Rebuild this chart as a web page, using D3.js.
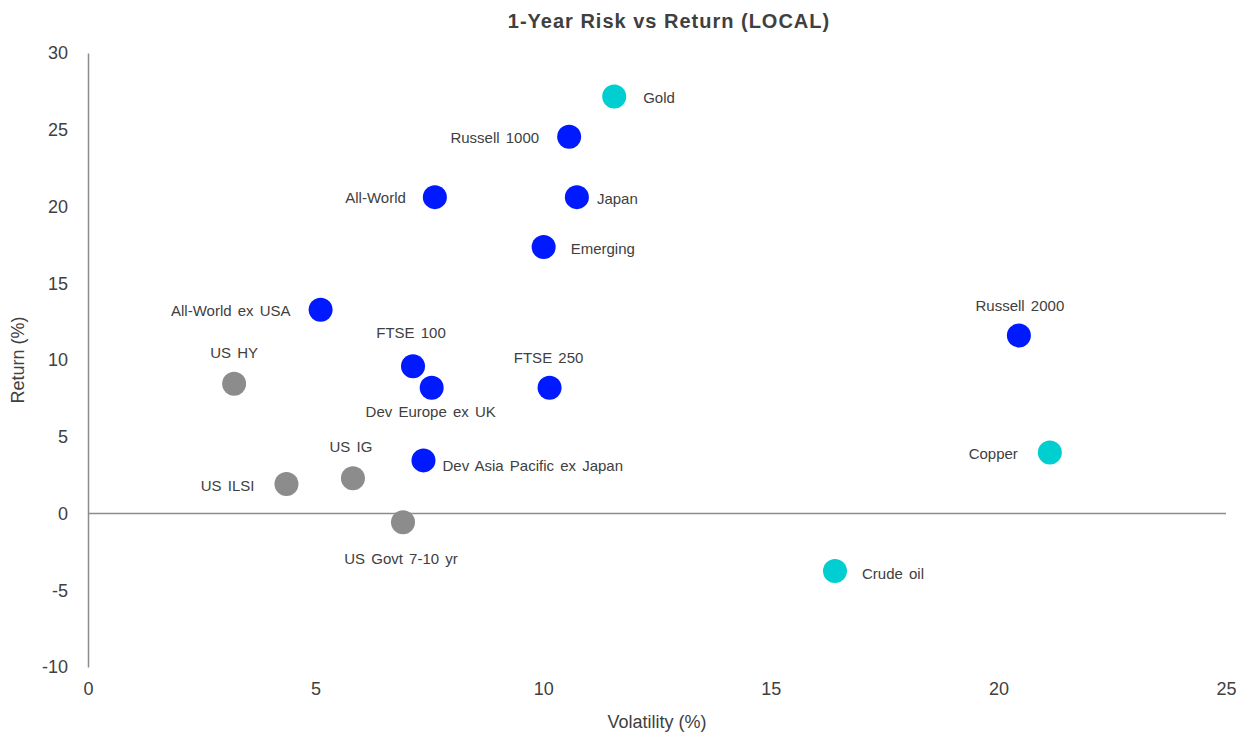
<!DOCTYPE html>
<html>
<head>
<meta charset="utf-8">
<script src="https://cdn.jsdelivr.net/npm/d3@7"></script>
<style>
  html, body { margin: 0; padding: 0; background: #fff; }
  svg { display: block; font-family: "Liberation Sans", Arial, sans-serif; }
</style>
</head>
<body>
<svg id="chart" width="1257" height="740"></svg>
<script>
// Asset names, 1-year volatility (%) and 1-year return (%) in local currency
const assets = ["Gold", "Russell 1000", "All-World", "Japan", "Emerging", "All-World ex USA",
  "Russell 2000", "FTSE 100", "Dev Europe ex UK", "FTSE 250", "US HY", "Copper",
  "Dev Asia Pacific ex Japan", "US IG", "US ILSI", "US Govt 7-10 yr", "Crude oil"];
const volatility = [11.56, 10.57, 7.62, 10.74, 10.01, 5.11, 20.45, 7.14, 7.55, 10.14, 3.21, 21.13, 7.37, 5.82, 4.36, 6.92, 16.41];
const returns = [27.16, 24.54, 20.61, 20.61, 17.36, 13.28, 11.59, 9.6, 8.19, 8.19, 8.45, 3.98, 3.46, 2.29, 1.92, -0.57, -3.74];
const assetClass = ["commodity", "equity", "equity", "equity", "equity", "equity", "equity", "equity",
  "equity", "equity", "bond", "commodity", "equity", "bond", "bond", "bond", "commodity"];

const xTicks = [0, 5, 10, 15, 20, 25];
const yTicks = [-10, -5, 0, 5, 10, 15, 20, 25, 30];

const classColor = { equity: "#0019FF", commodity: "#00CED1", bond: "#8C8C8C" };

// Label placement per asset: text anchor and pixel offset from the dot centre
const labelAnchor = ["start", "end", "end", "start", "start", "end", "middle", "middle", "middle",
  "middle", "middle", "end", "start", "middle", "end", "middle", "start"];
const labelDx = [29, -30, -29, 20, 27, -30, 1, -2, -1, -1, 0, -32, 19, -2, -32, -2, 27];
const labelDy = [6, 6, 6, 7, 7, 6, -25, -28, 29, -25, -26, 7, 11, -26, 7, 42, 8];

const svg = d3.select("#chart");
const margin = { left: 88, right: 31, top: 53, bottom: 73 };
const W = 1257, H = 740;
const textColor = "#404040";
const axisGrey = "#8C8C8C";

const x = d3.scaleLinear().domain([0, 25]).range([margin.left, W - margin.right]);
const y = d3.scaleLinear().domain([-10, 30]).range([H - margin.bottom, margin.top]);

// Title
svg.append("text")
  .attr("x", 669).attr("y", 28)
  .attr("text-anchor", "middle")
  .attr("font-size", 20).attr("font-weight", "bold")
  .attr("letter-spacing", 1)
  .attr("fill", textColor)
  .text("1-Year Risk vs Return (LOCAL)");

// Y axis (line + labels), plain hyphen for negatives
const yAxis = svg.append("g")
  .attr("transform", `translate(${margin.left},0)`)
  .call(d3.axisLeft(y).tickValues(yTicks).tickSize(0).tickPadding(20).tickFormat(d => String(d)));
yAxis.select(".domain").attr("stroke", axisGrey).attr("stroke-width", 1.5);
yAxis.selectAll("text").attr("font-size", 18).attr("fill", textColor)
  .attr("font-family", "Liberation Sans, Arial, sans-serif");

// X axis labels only (no baseline drawn)
const xAxis = svg.append("g")
  .attr("transform", `translate(0,${y(-10)})`)
  .call(d3.axisBottom(x).tickValues(xTicks).tickSize(0).tickPadding(15).tickFormat(d => String(d)));
xAxis.select(".domain").remove();
xAxis.selectAll("text").attr("font-size", 18).attr("fill", textColor)
  .attr("font-family", "Liberation Sans, Arial, sans-serif");

// Zero return line
svg.append("line")
  .attr("x1", x(0)).attr("x2", x(25))
  .attr("y1", y(0)).attr("y2", y(0))
  .attr("stroke", axisGrey).attr("stroke-width", 1.5);

// Axis titles
svg.append("text")
  .attr("x", x(12.5)).attr("y", 728)
  .attr("text-anchor", "middle")
  .attr("font-size", 18).attr("fill", textColor)
  .text("Volatility (%)");
svg.append("text")
  .attr("transform", `translate(24,${y(10)}) rotate(-90)`)
  .attr("text-anchor", "middle")
  .attr("font-size", 18).attr("fill", textColor)
  .text("Return (%)");

const data = assets.map((name, i) => ({
  name, vol: volatility[i], ret: returns[i], cls: assetClass[i],
  anchor: labelAnchor[i], dx: labelDx[i], dy: labelDy[i]
}));

// Dots
svg.append("g").selectAll("circle")
  .data(data).join("circle")
  .attr("cx", d => x(d.vol))
  .attr("cy", d => y(d.ret))
  .attr("r", 12)
  .attr("fill", d => classColor[d.cls]);

// Labels
svg.append("g").selectAll("text")
  .data(data).join("text")
  .attr("font-size", 15)
  .attr("word-spacing", 2)
  .attr("fill", textColor)
  .attr("text-anchor", d => d.anchor)
  .attr("x", d => x(d.vol) + d.dx)
  .attr("y", d => y(d.ret) + d.dy)
  .text(d => d.name);
</script>
</body>
</html>
